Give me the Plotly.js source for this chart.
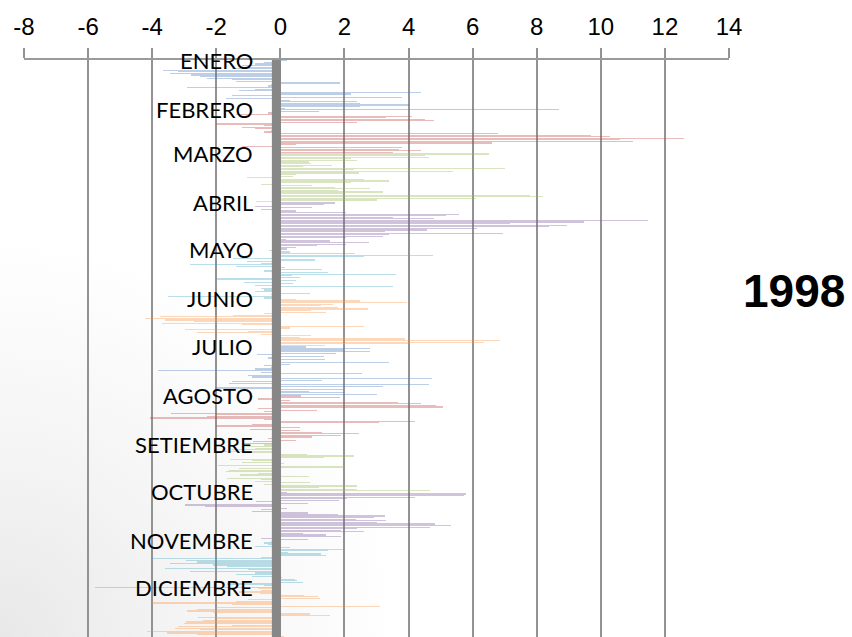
<!DOCTYPE html>
<html>
<head>
<meta charset="utf-8">
<script src="https://cdn.plot.ly/plotly-3.0.1.min.js"></script>
<style>
html,body{margin:0;padding:0;width:852px;height:637px;overflow:hidden;
background:radial-gradient(ellipse 400px 400px at 0px 637px,#e8e8e8 0%,#f4f4f4 45%,#ffffff 100%);}
#chart{width:852px;height:637px;}
</style>
</head>
<body>
<div id="chart"></div>
<script>
// Daily values for 1998, one array per month
var ene = [0.2,-0.5,-0.8,-1.2,-1.0,-1.5,-3.65,-3.2,-3.45,-2.8,-2.5,-2.3,-1.5,-1.4,1.85,-0.3,-0.4,-2.9,-0.8,-1.3,4.4,2.2,-1.5,3.8,-1.7,0.3,2.4,2.5,4.05,2.5,0.15];
var feb = [8.7,1.2,-0.4,-1.4,4.1,3.3,4.5,4.8,2.4,-2.0,-0.5,-1.2,-0.8,-0.3,-0.5,6.8,9.7,10.3,12.6,10.6,11.0,6.6,0.5,-1.2,3.8,3.7,4.4,3.5];
var mar = [6.5,4.5,4.65,2.2,2.4,0.9,0.95,1.6,0.7,7.0,2.3,5.4,2.45,0.5,0.4,-1.05,2.6,3.4,2.2,-0.6,1.0,1.7,2.8,1.8,3.2,2.0,7.8,8.2,6.1,3.0,-0.75];
var abr = [1.7,1.36,-0.8,0.98,-0.6,0.5,2.06,5.56,5.16,3.5,4.78,11.46,9.47,7.16,8.93,8.38,6.15,4.59,3.26,6.94,3.39,3.2,2.06,0.19,1.54,2.76,2.06,1.13,0.5,0.2];
var may = [-0.36,0.3,2.33,4.77,2.6,-1.47,1.08,-1.05,-0.6,-2.82,-1.4,0.14,1.3,-0.5,1.5,3.6,0.35,0.6,-2.0,0.5,-1.15,0.4,-0.8,3.5,-0.6,-0.5,-0.8,0.92,-0.3,-3.5,-0.5];
var jun = [0.5,2.5,3.94,1.64,1.26,1.79,2.73,0.95,1.42,-0.5,-1.47,-3.76,-4.23,-3.6,-2.7,-3.7,-1.2,2.6,0.3,-2.97,-1.0,-2.6,-0.6,0.95,0.6,3.88,6.85,6.35,4.0,1.4];
var jul = [0.8,2.81,2.0,2.8,1.73,-0.74,1.35,-0.4,1.4,-0.2,3.38,0.3,-0.5,-0.3,-0.8,-3.81,-0.6,2.54,-1.0,-0.9,4.72,1.3,-1.5,-1.6,4.65,3.19,-2.04,2.0,0.9,2.0,3.0];
var ago = [0.64,1.85,-0.7,0.3,3.68,4.4,4.87,5.08,-0.7,1.13,-0.5,-3.4,-2.0,-2.3,-4.07,-0.5,4.19,3.07,-0.9,-2.0,0.6,-0.95,0.6,1.3,2.46,1.88,1.0,-0.4,0.5,-0.85,-1.2];
var sep = [-0.5,-1.2,-0.8,-1.5,-2.0,-0.9,0.84,2.3,1.37,-1.58,-0.9,-1.2,0.1,-1.94,2.03,-1.3,-1.6,-1.7,-0.7,-1.25,0.9,-1.68,-0.6,-0.8,0.92,-0.5,2.4,1.2,2.38,4.66];
var oct = [0.2,5.8,5.72,4.19,2.07,1.83,-0.75,0.87,-2.98,-2.36,0.2,-0.6,-0.9,0.87,1.8,3.28,2.92,2.35,3.3,3.0,4.84,5.31,4.67,2.4,1.9,2.6,0.7,1.43,1.88,-0.6,0.86];
var nov = [-0.3,-0.5,-0.4,-0.8,0.3,1.94,1.5,0.25,1.27,1.41,-0.6,-4.02,-2.93,-2.6,-3.45,-2.1,-1.68,-3.6,-1.0,-2.82,-0.8,-1.37,-0.9,0.05,0.45,0.53,0.72,-1.68,-0.5,-5.79];
var dic = [-0.7,-0.6,-1.3,-0.65,0.75,1.16,1.23,-1.0,-1.4,-4.0,-1.5,3.1,-2.0,-2.6,-2.9,-2.1,0.92,1.54,-2.56,-2.0,-2.4,-2.93,-3.0,-1.5,-3.2,-3.3,-2.5,-4.17,-3.55,-2.6,0.1];

var monthNames = ["ENERO","FEBRERO","MARZO","ABRIL","MAYO","JUNIO","JULIO","AGOSTO","SETIEMBRE","OCTUBRE","NOVEMBRE","DICIEMBRE"];
var xTicks = [-8,-6,-4,-2,0,2,4,6,8,10,12,14];
var yearLabel = "1998";

var months = [ene,feb,mar,abr,may,jun,jul,ago,sep,oct,nov,dic];
var palette = ["79,129,189","192,80,77","155,187,89","128,100,162","75,172,198","247,150,70"];

var traces = [];
var annotations = [];
var start = 0;
months.forEach(function(vals, m){
  var ys = vals.map(function(v,i){return start+i;});
  traces.push({
    type:'bar', orientation:'h', x: vals, y: ys,
    marker:{color:'rgba('+palette[m%6]+',0.38)', line:{width:0}},
    width:0.75, hoverinfo:'skip', showlegend:false
  });
  annotations.push({
    xref:'x', yref:'y', x:-0.78, y:start-0.5, xanchor:'right', yanchor:'middle',
    text: monthNames[m], showarrow:false,
    font:{family:'Lato, "Noto Sans", sans-serif', size:22, color:'#000'}
  });
  start += vals.length;
});
var totalDays = start;

annotations.push({
  xref:'paper', yref:'paper', x:1.092, y:0.60, xanchor:'center', yanchor:'middle',
  text:'<b>'+yearLabel+'</b>', showarrow:false,
  font:{family:'"Liberation Sans", Arial, sans-serif', size:46, color:'#000'}
});

var layout = {
  width:852, height:637,
  margin:{l:24, r:123, t:60, b:0, pad:0},
  paper_bgcolor:'rgba(0,0,0,0)', plot_bgcolor:'rgba(0,0,0,0)',
  barmode:'overlay', bargap:0,
  xaxis:{
    side:'top', range:[-8,14], tickvals:xTicks, ticktext:xTicks.map(String),
    showgrid:true, gridcolor:'#929292', gridwidth:2,
    zeroline:false, showline:true, linecolor:'#9a9a9a', linewidth:2,
    ticks:'outside', ticklen:10, tickwidth:2, tickcolor:'#929292',
    ticklabelstandoff:3,
    tickfont:{family:'"Liberation Sans", Arial, sans-serif', size:24, color:'#000'}
  },
  yaxis:{
    range:[totalDays-0.5, -0.5], showgrid:false, zeroline:false,
    showticklabels:false, ticks:'', showline:false
  },
  shapes:[{
    type:'rect', xref:'x', yref:'paper', x0:-0.265, x1:0.02, y0:0, y1:1,
    fillcolor:'#878787', line:{width:0}, layer:'above'
  }],
  annotations: annotations
};

Plotly.newPlot('chart', traces, layout, {staticPlot:true, displayModeBar:false});
</script>
</body>
</html>
